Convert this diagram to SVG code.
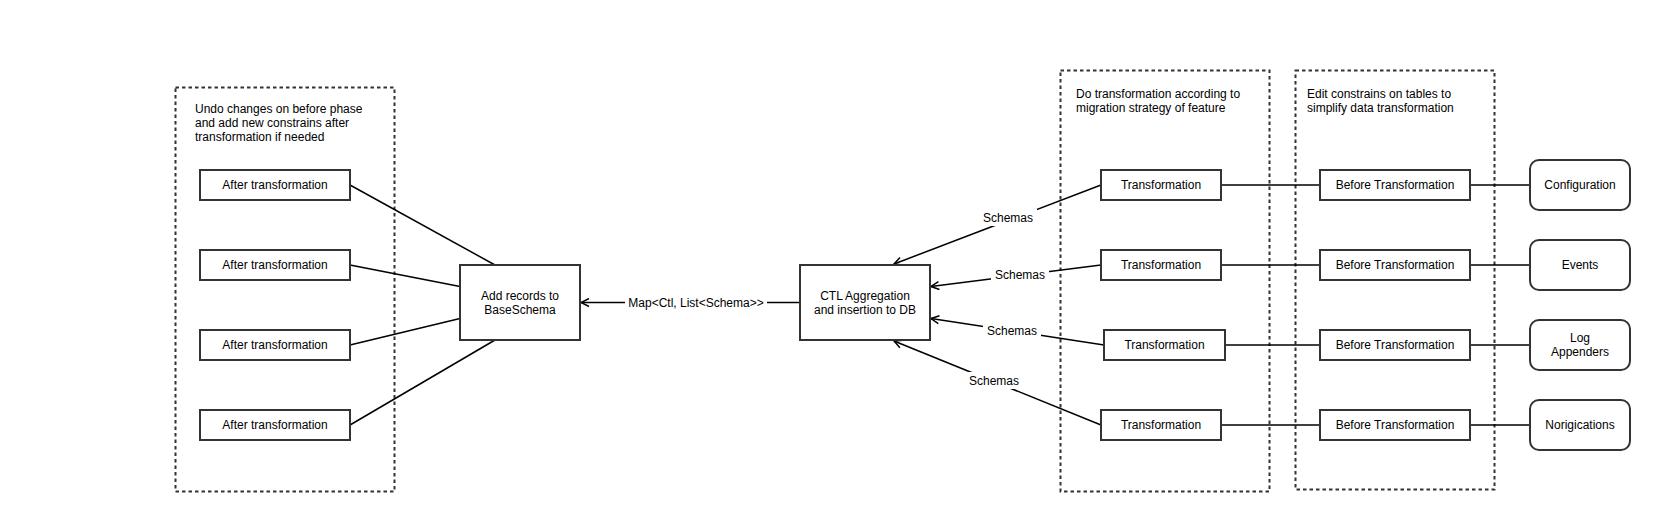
<svg xmlns="http://www.w3.org/2000/svg" width="1656" height="512" viewBox="0 0 1656 512">
<style>
  text { font-family: "Liberation Sans", Arial, sans-serif; font-size: 12px; fill: #000; }
  .c { text-anchor: middle; }
  .box { fill: #fff; stroke: #333; stroke-width: 2; }
  .grp { fill: none; stroke: #333; stroke-width: 2; stroke-dasharray: 3.5 3; }
  .edge { fill: none; stroke: #000; stroke-width: 1.5; }
  .lbl { fill: #fff; stroke: none; }
</style>
<defs>
  <marker id="open" viewBox="0 0 10 10" refX="9.5" refY="5" markerWidth="10" markerHeight="10" markerUnits="userSpaceOnUse" orient="auto">
    <path d="M1.5,1 L9.5,5 L1.5,9" fill="none" stroke="#000" stroke-width="1.5"/>
  </marker>
</defs>

<g id="group-after">
  <rect class="grp" x="175.5" y="87.5" width="219" height="404"/>
  <text x="195" y="113">Undo changes on before phase</text>
  <text x="195" y="127">and add new constrains after</text>
  <text x="195" y="141">transformation if needed</text>
</g>
<g id="group-transform">
  <rect class="grp" x="1060.5" y="70.5" width="209" height="421"/>
  <text x="1076" y="98">Do transformation according to</text>
  <text x="1076" y="112">migration strategy of feature</text>
</g>
<g id="group-before">
  <rect class="grp" x="1295.5" y="70.5" width="199" height="419"/>
  <text x="1307" y="98">Edit constrains on tables to</text>
  <text x="1307" y="112">simplify data transformation</text>
</g>

<g id="connectors">
  <line class="edge" x1="350" y1="185" x2="495" y2="265"/>
  <line class="edge" x1="350" y1="265" x2="460" y2="286.5"/>
  <line class="edge" x1="350" y1="345" x2="460" y2="318.5"/>
  <line class="edge" x1="350" y1="425" x2="495" y2="340"/>

  <line class="edge" x1="800" y1="302.5" x2="581" y2="302.5" marker-end="url(#open)"/>
  <rect class="lbl" x="625" y="294" width="142" height="17"/>
  <text class="c" x="696" y="306.5">Map&lt;Ctl, List&lt;Schema&gt;&gt;</text>

  <line class="edge" x1="1101" y1="185" x2="894" y2="264" marker-end="url(#open)"/>
  <rect class="lbl" x="979" y="209" width="58" height="17"/>
  <text class="c" x="1008" y="222">Schemas</text>

  <line class="edge" x1="1101" y1="265" x2="931" y2="286.5" marker-end="url(#open)"/>
  <rect class="lbl" x="991" y="266" width="58" height="17"/>
  <text class="c" x="1020" y="279">Schemas</text>

  <line class="edge" x1="1104" y1="345" x2="931" y2="318.5" marker-end="url(#open)"/>
  <rect class="lbl" x="983" y="322" width="58" height="17"/>
  <text class="c" x="1012" y="335">Schemas</text>

  <line class="edge" x1="1101" y1="425" x2="894" y2="341" marker-end="url(#open)"/>
  <rect class="lbl" x="965" y="372" width="58" height="17"/>
  <text class="c" x="994" y="385">Schemas</text>

  <line class="edge" x1="1221" y1="185" x2="1320" y2="185"/>
  <line class="edge" x1="1221" y1="265" x2="1320" y2="265"/>
  <line class="edge" x1="1225" y1="345" x2="1320" y2="345"/>
  <line class="edge" x1="1221" y1="425" x2="1320" y2="425"/>

  <line class="edge" x1="1470" y1="185" x2="1530" y2="185"/>
  <line class="edge" x1="1470" y1="265" x2="1530" y2="265"/>
  <line class="edge" x1="1470" y1="345" x2="1530" y2="345"/>
  <line class="edge" x1="1470" y1="425" x2="1530" y2="425"/>
</g>

<g id="after1"><rect class="box" x="200" y="170" width="150" height="30"/><text class="c" x="275" y="189">After transformation</text></g>
<g id="after2"><rect class="box" x="200" y="250" width="150" height="30"/><text class="c" x="275" y="269">After transformation</text></g>
<g id="after3"><rect class="box" x="200" y="330" width="150" height="30"/><text class="c" x="275" y="349">After transformation</text></g>
<g id="after4"><rect class="box" x="200" y="410" width="150" height="30"/><text class="c" x="275" y="429">After transformation</text></g>

<g id="add-records"><rect class="box" x="460" y="265" width="120" height="75"/>
  <text class="c" x="520" y="300">Add records to</text><text class="c" x="520" y="314">BaseSchema</text></g>

<g id="ctl"><rect class="box" x="800" y="265" width="130" height="75"/>
  <text class="c" x="865" y="300">CTL Aggregation</text><text class="c" x="865" y="314">and insertion to DB</text></g>

<g id="trans1"><rect class="box" x="1101" y="170" width="120" height="30"/><text class="c" x="1161" y="189">Transformation</text></g>
<g id="trans2"><rect class="box" x="1101" y="250" width="120" height="30"/><text class="c" x="1161" y="269">Transformation</text></g>
<g id="trans3"><rect class="box" x="1104" y="330" width="121" height="30"/><text class="c" x="1164.5" y="349">Transformation</text></g>
<g id="trans4"><rect class="box" x="1101" y="410" width="120" height="30"/><text class="c" x="1161" y="429">Transformation</text></g>

<g id="before1"><rect class="box" x="1320" y="170" width="150" height="30"/><text class="c" x="1395" y="189">Before Transformation</text></g>
<g id="before2"><rect class="box" x="1320" y="250" width="150" height="30"/><text class="c" x="1395" y="269">Before Transformation</text></g>
<g id="before3"><rect class="box" x="1320" y="330" width="150" height="30"/><text class="c" x="1395" y="349">Before Transformation</text></g>
<g id="before4"><rect class="box" x="1320" y="410" width="150" height="30"/><text class="c" x="1395" y="429">Before Transformation</text></g>

<g id="configuration"><rect class="box" x="1530" y="160" width="100" height="50" rx="9"/><text class="c" x="1580" y="189">Configuration</text></g>
<g id="events"><rect class="box" x="1530" y="240" width="100" height="50" rx="9"/><text class="c" x="1580" y="269">Events</text></g>
<g id="log-appenders"><rect class="box" x="1530" y="320" width="100" height="50" rx="9"/><text class="c" x="1580" y="342">Log</text><text class="c" x="1580" y="356">Appenders</text></g>
<g id="norigications"><rect class="box" x="1530" y="400" width="100" height="50" rx="9"/><text class="c" x="1580" y="429">Norigications</text></g>
</svg>
